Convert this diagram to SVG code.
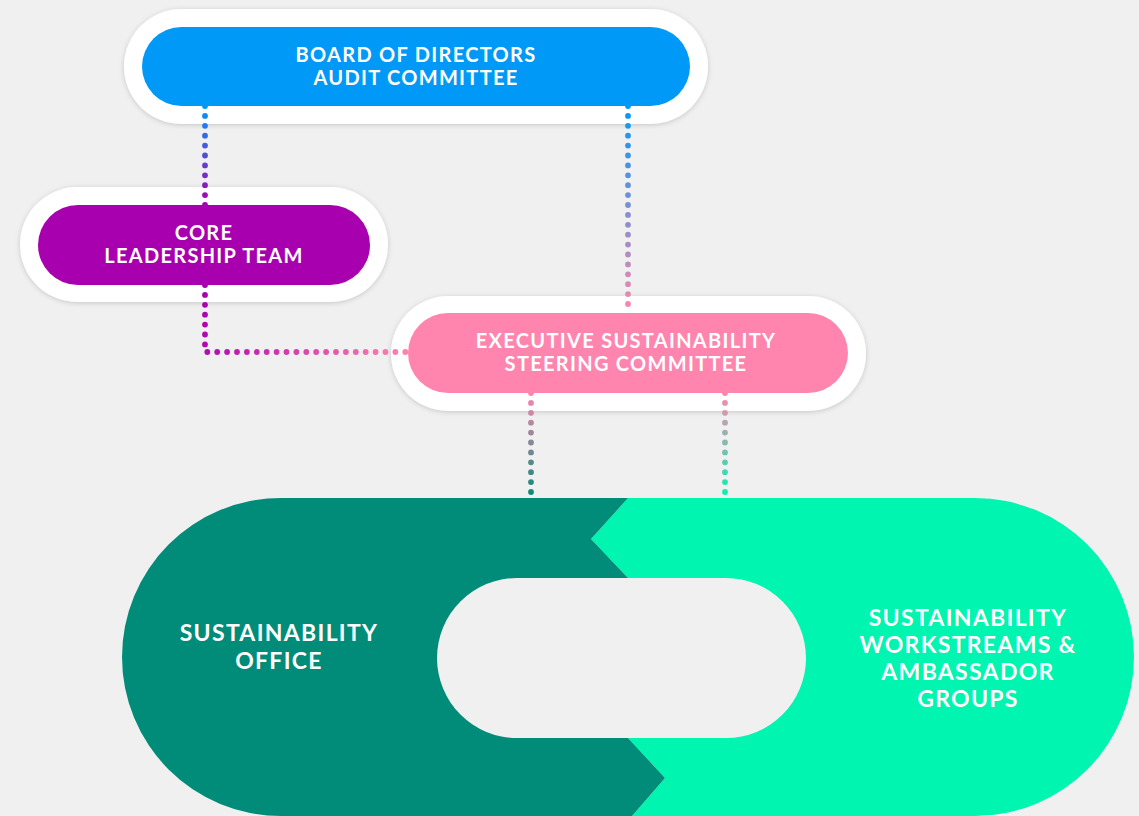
<svg xmlns="http://www.w3.org/2000/svg" width="1139" height="816" viewBox="0 0 1139 816">
  <style>
    .ring { fill: #ffffff; filter: url(#sh); }
    .lbl { font-family: Lato, "Open Sans", sans-serif; font-weight: 700; fill: #ffffff; text-anchor: middle; letter-spacing: 1.3px; }
    .s { font-size: 20px; }
    .b { font-size: 23px; }
    .dots { fill: none; stroke-width: 5.8; stroke-linecap: round; stroke-dasharray: 0 9.9; }
  </style>
  <defs>
    <filter id="sh" x="-10%" y="-20%" width="120%" height="140%">
      <feDropShadow dx="0" dy="1" stdDeviation="2.5" flood-color="#000000" flood-opacity="0.18"/>
    </filter>
    <linearGradient id="g1" gradientUnits="userSpaceOnUse" x1="0" y1="106" x2="0" y2="205">
      <stop offset="0" stop-color="#0099F7"/><stop offset="1" stop-color="#A800AE"/>
    </linearGradient>
    <linearGradient id="g2" gradientUnits="userSpaceOnUse" x1="0" y1="106" x2="0" y2="313">
      <stop offset="0" stop-color="#0099F7"/><stop offset="1" stop-color="#FF85AE"/>
    </linearGradient>
    <linearGradient id="g3" gradientUnits="userSpaceOnUse" x1="205" y1="285" x2="408" y2="352">
      <stop offset="0" stop-color="#A800AE"/><stop offset="1" stop-color="#FF85AE"/>
    </linearGradient>
    <linearGradient id="g4" gradientUnits="userSpaceOnUse" x1="0" y1="393" x2="0" y2="498">
      <stop offset="0" stop-color="#FF85AE"/><stop offset="1" stop-color="#008C78"/>
    </linearGradient>
    <linearGradient id="g5" gradientUnits="userSpaceOnUse" x1="0" y1="393" x2="0" y2="498">
      <stop offset="0" stop-color="#FF85AE"/><stop offset="1" stop-color="#00F5B0"/>
    </linearGradient>
  </defs>

  <rect x="0" y="0" width="1139" height="816" fill="#F0F0F0"/>

  <g id="sustainability-groups">
    <path d="M628 498 H975 A159 159 0 0 1 975 816 H632 L665 778 L628 738 H726 A80 80 0 0 0 726 578 H628 L591 539 Z" fill="#00F5B0"/>
    <text class="lbl b" x="968" y="626">SUSTAINABILITY</text>
    <text class="lbl b" x="968" y="653">WORKSTREAMS &amp;</text>
    <text class="lbl b" x="968" y="680">AMBASSADOR</text>
    <text class="lbl b" x="968" y="707">GROUPS</text>
  </g>

  <g id="sustainability-office">
    <path d="M281 498 H628 L591 539 L628 578 H517 A80 80 0 0 0 517 738 H628 L665 778 L632 816 H281 A159 159 0 0 1 281 498 Z" fill="#008C78"/>
    <text class="lbl b" x="279" y="641">SUSTAINABILITY</text>
    <text class="lbl b" x="279" y="669">OFFICE</text>
  </g>

  <g id="board">
    <rect class="ring" x="124" y="9" width="584" height="115" rx="57.5"/>
    <rect x="142" y="27" width="548" height="79" rx="39.5" fill="#0099F7"/>
    <text class="lbl s" x="416" y="62">BOARD OF DIRECTORS</text>
    <text class="lbl s" x="416" y="85">AUDIT COMMITTEE</text>
  </g>

  <g id="core-leadership">
    <rect class="ring" x="20" y="187" width="368" height="115" rx="57.5"/>
    <rect x="38" y="205" width="332" height="80" rx="40" fill="#A800AE"/>
    <text class="lbl s" x="204" y="240">CORE</text>
    <text class="lbl s" x="204" y="263">LEADERSHIP TEAM</text>
  </g>

  <g id="executive-steering">
    <rect class="ring" x="391" y="296" width="475" height="115" rx="57.5"/>
    <rect x="408" y="313" width="440" height="80" rx="40" fill="#FF85AE"/>
    <text class="lbl s" x="626" y="348">EXECUTIVE SUSTAINABILITY</text>
    <text class="lbl s" x="626" y="371">STEERING COMMITTEE</text>
  </g>

  <g id="connectors">
    <path class="dots" d="M205 106 V205" stroke="url(#g1)"/>
    <path class="dots" d="M628 106 V313" stroke="url(#g2)"/>
    <path class="dots" d="M205 285 V352 H408" stroke="url(#g3)"/>
    <path class="dots" d="M531 393 V498" stroke="url(#g4)"/>
    <path class="dots" d="M725 393 V498" stroke="url(#g5)"/>
  </g>
</svg>
